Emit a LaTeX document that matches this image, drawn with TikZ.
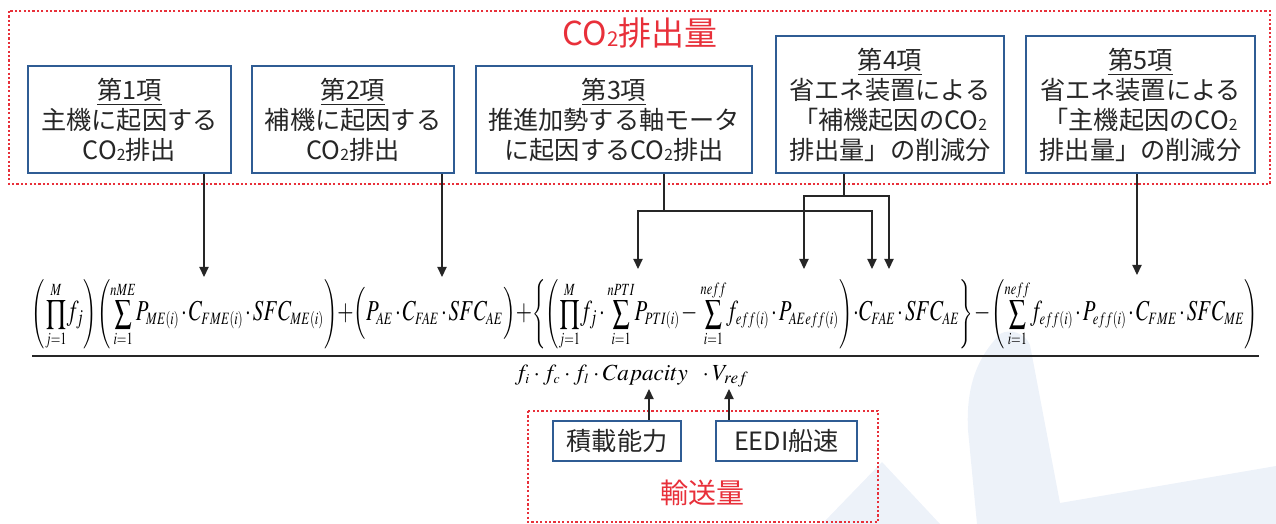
\documentclass[tikz,border=0pt]{standalone}
\usepackage{mathptmx}
\usepackage{fontspec}
\newfontfamily\jp{Noto Sans CJK JP}
\usetikzlibrary{arrows.meta}
\definecolor{boxblue}{HTML}{2F5C94}
\definecolor{dotred}{HTML}{E8303A}
\definecolor{txt}{HTML}{262626}
\definecolor{wm}{HTML}{EDF2F9}
\newcommand\cosub[1]{\raisebox{-0.04em}{\scalebox{0.62}{#1}}}
\newcommand\ssb[1]{_{\scriptscriptstyle #1}}
\newcommand\bl[1]{\mbox{\fontsize{12.5}{15}\selectfont\thinmuskip=1mu\medmuskip=1.5mu\thickmuskip=2mu$#1$}}
\tikzset{
  box/.style={draw=boxblue, line width=1.3pt, fill=white, text=txt,
    font=\jp\fontsize{12.6}{15}\selectfont, align=center, inner sep=0pt},
  reddot/.style={draw=dotred, line width=1.1pt, dash pattern=on 1.1pt off 1.1pt},
  redtext/.style={text=dotred, inner sep=0pt},
  arr/.style={-{Triangle[length=5pt,width=4.6pt]}, line width=0.6pt, draw=txt},
  link/.style={line width=0.6pt, draw=txt},
}
\begin{document}
\begin{tikzpicture}[x=0.5pt,y=-0.5pt]
\useasboundingbox (0,0) rectangle (1276,524);
% watermark
\fill[wm] (882,462) -- (822,524) -- (940,524) -- cycle;
\fill[wm] (1000,334) .. controls (975,360) and (966,390) .. (968,430) -- (977,524) -- (1276,524) -- (1276,466) -- (1060,503) -- (1030,345) .. controls (1025,333) and (1010,328) .. (1000,334) -- cycle;
% red dotted frames
\draw[reddot] (9,11) rectangle (1270,184);
\draw[reddot] (528,411) rectangle (878,522);
% titles
\node[redtext, font=\jp\fontsize{16.5}{18}\selectfont] (ttl) at (640,33) {CO\cosub{2}排出量};
\node[redtext, font=\jp\fontsize{14}{16}\selectfont] (ttl2) at (702,493) {輸送量};
% boxes
\node[box, minimum width=101.5pt, minimum height=53.5pt] (b1) at (129.5,119.5) {\underline{第1項}\\主機に起因する\\CO\cosub{2}排出};
\node[box, minimum width=101pt, minimum height=53.5pt] (b2) at (353,119.5) {\underline{第2項}\\補機に起因する\\CO\cosub{2}排出};
\node[box, minimum width=138pt, minimum height=53.5pt] (b3) at (614,119.5) {\underline{第3項}\\推進加勢する軸モータ\\に起因するCO\cosub{2}排出};
\node[box, minimum width=114pt, minimum height=68.5pt] (b4) at (890,104.5) {\underline{第4項}\\省エネ装置による\\「補機起因のCO\cosub{2}\\排出量」の削減分};
\node[box, minimum width=114.5pt, minimum height=68.5pt] (b5) at (1140.5,104.5) {\underline{第5項}\\省エネ装置による\\「主機起因のCO\cosub{2}\\排出量」の削減分};
\node[box, minimum width=64pt, minimum height=20pt] (c1) at (617,441) {積載能力};
\node[box, minimum width=70.5pt, minimum height=20pt] (c2) at (786.5,441) {EEDI船速};
% equation
\node[inner sep=0pt] (num) at (645,315) {\resizebox*{613pt}{35pt}{\thinmuskip=1mu\medmuskip=1.5mu\thickmuskip=2mu$\displaystyle
\left(\prod_{j=1}^{M}\!\bl{f_j}\right)\!\left(\sum_{i=1}^{nME}\!\bl{P\ssb{ME(i)}\cdot C\ssb{FME(i)}\cdot SFC\ssb{ME(i)}}\right)\!\bl{+\Bigl(P\ssb{AE}\cdot C\ssb{FAE}\cdot SFC\ssb{AE}\Bigr)+}\!\left\{\left(\prod_{j=1}^{M}\!\bl{f_j\cdot{}}\sum_{i=1}^{nPTI}\!\bl{P\ssb{PTI(i)}-{}}\sum_{i=1}^{neff}\!\bl{f\ssb{eff(i)}\cdot P\ssb{AEeff(i)}}\right)\bl{\cdot C\ssb{FAE}\cdot SFC\ssb{AE}}\right\}\bl{-}\left(\sum_{i=1}^{neff}\!\bl{f\ssb{eff(i)}\cdot P\ssb{eff(i)}\cdot C\ssb{FME}\cdot SFC\ssb{ME}}\right)$}};
\coordinate (barL) at (32,356);
\coordinate (barR) at (1259,356);
\draw[line width=1.2pt, txt] (barL) -- (barR);
\node[inner sep=0pt] (den) at (632,376) {\resizebox{117pt}{!}{\medmuskip=2.5mu$f\ssb{i}\cdot f\ssb{c}\cdot f\ssb{l}\cdot Capacity\enspace\cdot V_{ref}$}};
% connector targets
\coordinate (t1) at (204,277);
\coordinate (t2) at (442,277);
\coordinate (j3) at (664,211);
\coordinate (t3a) at (638,269);
\coordinate (t3b) at (872,269);
\coordinate (j4) at (844,196);
\coordinate (t4a) at (804,269);
\coordinate (t4b) at (889,269);
\coordinate (t5) at (1137,275);
\coordinate (u1) at (649,389);
\coordinate (u2) at (729,389);
% connectors
\draw[arr] (b1.south -| t1) -- (t1);
\draw[arr] (b2.south -| t2) -- (t2);
\draw[link] (b3.south -| j3) -- (j3);
\draw[arr] (j3) -| (t3a);
\draw[arr] (j3) -| (t3b);
\draw[link] (b4.south -| j4) -- (j4);
\draw[arr] (j4) -| (t4a);
\draw[arr] (j4) -| (t4b);
\draw[arr] (b5.south -| t5) -- (t5);
\draw[arr] (c1.north -| u1) -- (u1);
\draw[arr] (c2.north -| u2) -- (u2);
\end{tikzpicture}
\end{document}
